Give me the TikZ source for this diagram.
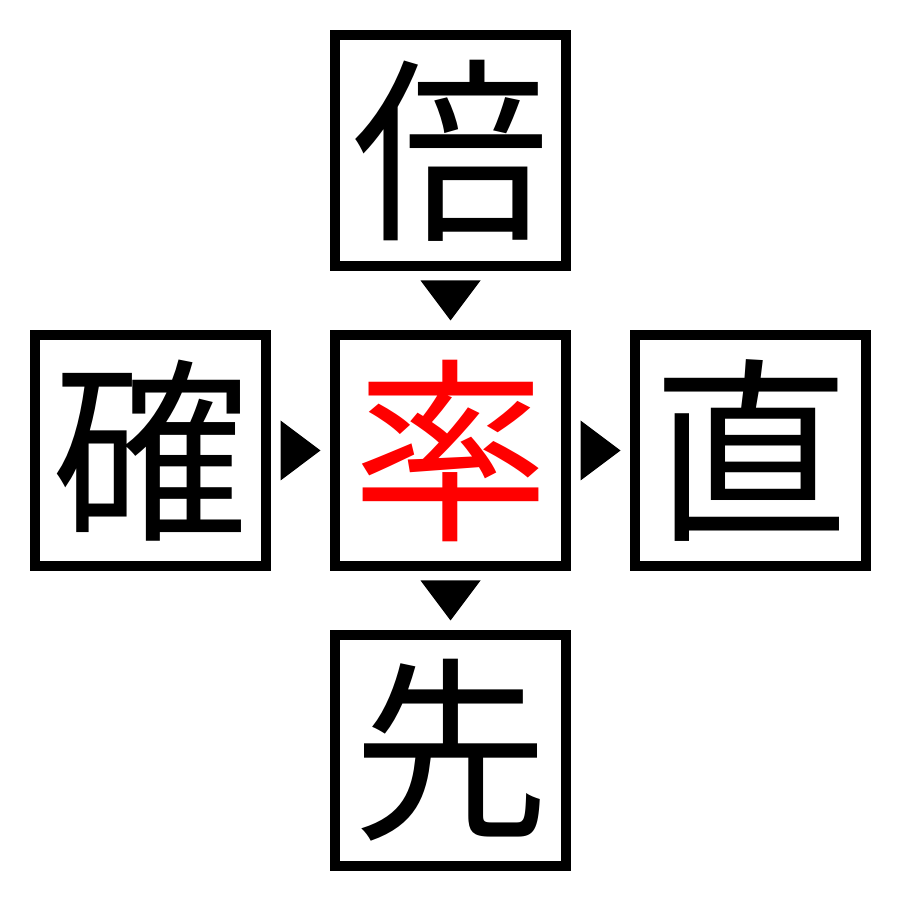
\documentclass[tikz,border=0pt]{standalone}
\usepackage{fontspec}
\newfontfamily\cjk{Noto Sans CJK JP}
\usetikzlibrary{positioning,matrix,calc}
\begin{document}
\begin{tikzpicture}
[ plain/.style={ draw=none, fill=none, }, grid/.style={ matrix of nodes, nodes={ draw, line width=0.1cm, anchor=center,
    minimum size=2.31cm, inner sep=0pt, font=\cjk\fontsize{56}{56}\selectfont
    },
  nodes in empty cells,
  column sep=0.59cm,
  row sep=0.59cm
  }
]
\useasboundingbox (0,0) rectangle (9,9);
\matrix[grid] (mat) at (4.505,4.495)
{
    |[plain]| & 倍              & |[plain]| \\
    確        & |[text=red]| 率 & 直        \\
    |[plain]| & 先              & |[plain]| \\
  };

 \foreach \a/\b in {1-2/2-2, 2-2/3-2}{
    \fill ($(mat-\a.south)!0.5!(mat-\b.north)$) +(-0.3,0.2) -- +(0.3,0.2) -- +(0,-0.2) -- cycle;
  }
 \foreach \a/\b in {2-1/2-2, 2-2/2-3}{
    \fill ($(mat-\a.east)!0.5!(mat-\b.west)$) +(-0.2,0.3) -- +(-0.2,-0.3) -- +(0.2,0) -- cycle;
  }
\end{tikzpicture}
\end{document}
